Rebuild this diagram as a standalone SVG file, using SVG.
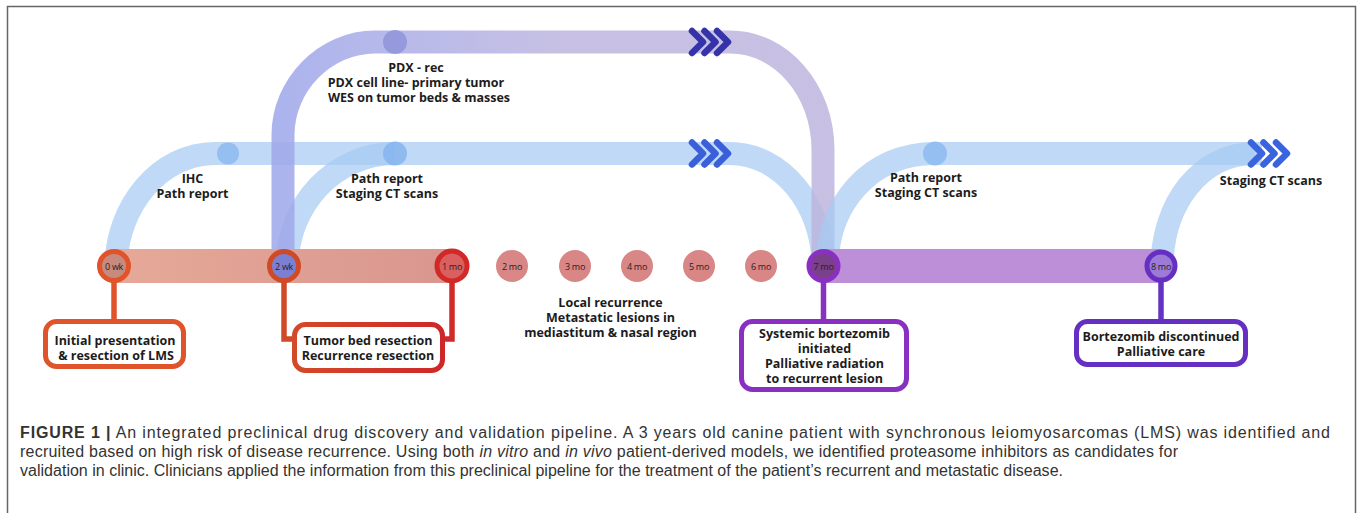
<svg xmlns="http://www.w3.org/2000/svg" width="1358" height="513" viewBox="0 0 1358 513">
<style>
  .band{fill:none;stroke-width:23;stroke-linecap:butt}
  .blue{stroke:#a6caf3;opacity:0.72}
  .lbl{font-family:"Open Sans","Noto Sans","DejaVu Sans",sans-serif;font-weight:700;font-size:12.5px;fill:#1c1c1c;text-anchor:middle}
  .tl{font-family:"Open Sans","Noto Sans","DejaVu Sans",sans-serif;font-size:9px;fill:#2a2020;text-anchor:middle;letter-spacing:-0.3px}
  .box{fill:#fff;stroke-width:5}
  .stem{fill:none;stroke-width:5.5;stroke-linejoin:miter}
  .cap{font-family:"Liberation Sans",Arial,sans-serif;font-size:16px;fill:#333}
  .chev{fill:none;stroke:currentColor;stroke-width:6.5;stroke-linecap:round;stroke-linejoin:round}
</style>
<defs>
  <linearGradient id="gPdx" gradientUnits="userSpaceOnUse" x1="283" y1="0" x2="560" y2="0">
    <stop offset="0" stop-color="#9ea7ea"/>
    <stop offset="1" stop-color="#bdb5df"/>
  </linearGradient>
  <linearGradient id="gRed" gradientUnits="userSpaceOnUse" x1="114" y1="0" x2="452" y2="0">
    <stop offset="0" stop-color="#e6a998"/>
    <stop offset="1" stop-color="#d9968f"/>
  </linearGradient>
  <linearGradient id="gBox2" gradientUnits="userSpaceOnUse" x1="284" y1="0" x2="452" y2="0">
    <stop offset="0" stop-color="#d34c28"/>
    <stop offset="1" stop-color="#cf2528"/>
  </linearGradient>
  <g id="chev3" class="chev">
    <polyline points="-11,-11 0,0 -11,11"/>
    <polyline points="1.5,-11 12.5,0 1.5,11"/>
    <polyline points="14,-11 25,0 14,11"/>
  </g>
</defs>

<rect x="7.5" y="6.5" width="1348" height="530" fill="#fff" stroke="#666" stroke-width="1.5"/>

<g id="connectors">
  <!-- flow bands -->
  <path class="band blue" d="M116 268 C116 206 160 153.5 215 153.5 L730 153.5 C781 153.5 823 204 823 266"/>
  <path class="band blue" d="M287 268 C287 204 335 153.5 395 153.5"/>
  <path class="band" stroke="url(#gPdx)" opacity="0.85" d="M283 268 L283 135 C283 85 325 42 375 42 L730 42 C781 42 823 90 823 150 L823 268"/>
  <path class="band blue" d="M827 268 C827 204 870 153.5 935 153.5 L1262 153.5"/>
  <path class="band blue" d="M1162 268 C1162 204 1200 153.5 1255 153.5"/>
  <!-- flow nodes -->
  <circle cx="395" cy="42" r="12" fill="#8f94d9" opacity="0.85"/>
  <circle cx="228" cy="153.5" r="11" fill="#8dbaef" opacity="0.85"/>
  <circle cx="395" cy="153.5" r="12" fill="#86b4ee" opacity="0.85"/>
  <circle cx="935" cy="153.5" r="12" fill="#8dbaef" opacity="0.85"/>
  <!-- chevrons -->
  <use href="#chev3" x="703" y="42" style="color:#3533a9"/>
  <use href="#chev3" x="703" y="153.5" style="color:#3a5fd9"/>
  <use href="#chev3" x="1262" y="153.5" style="color:#3a63de"/>
  <!-- timeline bars -->
  <rect x="114" y="249" width="338" height="34" fill="url(#gRed)"/>
  <rect x="823" y="249" width="338" height="34" fill="#bd8fd8"/>
  <!-- stems -->
  <path class="stem" stroke="#e0542b" d="M114 280 V322"/>
  <path class="stem" stroke="#d04a28" d="M284 280 V339 H296"/>
  <path class="stem" stroke="#d12a2a" d="M452 280 V339 H440"/>
  <path class="stem" stroke="#8a32c0" d="M823.5 280 V322"/>
  <path class="stem" stroke="#6532c2" d="M1161 280 V322"/>
</g>

<g id="tp-0wk"><circle cx="114" cy="266" r="14.5" fill="#c98a7e" stroke="#e0542b" stroke-width="5"/><text class="tl" x="114" y="269.5">0 wk</text></g>
<g id="tp-2wk"><circle cx="284" cy="266" r="14.5" fill="#7c80d3" stroke="#cf4a26" stroke-width="5"/><text class="tl" x="284" y="269.5">2 wk</text></g>
<g id="tp-1mo"><circle cx="452" cy="266" r="15" fill="#d9605e" stroke="#d22828" stroke-width="5"/><text class="tl" x="452" y="269.5">1 mo</text></g>
<g id="tp-2mo"><circle cx="512" cy="266" r="16" fill="#d98686"/><text class="tl" x="512" y="269.5">2 mo</text></g>
<g id="tp-3mo"><circle cx="575" cy="266" r="16" fill="#d98686"/><text class="tl" x="575" y="269.5">3 mo</text></g>
<g id="tp-4mo"><circle cx="637" cy="266" r="16" fill="#d98686"/><text class="tl" x="637" y="269.5">4 mo</text></g>
<g id="tp-5mo"><circle cx="699" cy="266" r="16" fill="#d98686"/><text class="tl" x="699" y="269.5">5 mo</text></g>
<g id="tp-6mo"><circle cx="761" cy="266" r="16" fill="#d98686"/><text class="tl" x="761" y="269.5">6 mo</text></g>
<g id="tp-7mo"><circle cx="823.5" cy="266" r="14.5" fill="#7a4089" stroke="#8a30c0" stroke-width="5"/><text class="tl" x="823.5" y="269.5">7 mo</text></g>
<g id="tp-8mo"><circle cx="1161" cy="266" r="14" fill="#9b7ad8" stroke="#6530c2" stroke-width="5"/><text class="tl" x="1161" y="269.5">8 mo</text></g>

<g id="box-initial"><rect class="box" x="45.5" y="321.5" width="138" height="45" rx="11" stroke="#e0542b"/>
  <text class="lbl" x="115" y="344.5">Initial presentation</text><text class="lbl" x="116" y="359.5">&amp; resection of LMS</text></g>
<g id="box-tumor"><rect class="box" x="294.5" y="324.5" width="148" height="46" rx="11" stroke="url(#gBox2)"/>
  <text class="lbl" x="368" y="344.5">Tumor bed resection</text><text class="lbl" x="368" y="359.5">Recurrence resection</text></g>
<g id="box-systemic"><rect class="box" x="741.5" y="321.5" width="165" height="68" rx="11" stroke="#8a30c0"/>
  <text class="lbl" x="824.5" y="337.5">Systemic bortezomib</text><text class="lbl" x="824.5" y="352.5">initiated</text>
  <text class="lbl" x="824.5" y="367.5">Palliative radiation</text><text class="lbl" x="824.5" y="382.5">to recurrent lesion</text></g>
<g id="box-discontinued"><rect class="box" x="1076.5" y="321.5" width="169" height="43" rx="11" stroke="#6530c2"/>
  <text class="lbl" x="1161" y="340.5">Bortezomib discontinued</text><text class="lbl" x="1161" y="356">Palliative care</text></g>

<g id="lbl-pdx"><text class="lbl" x="416" y="71.5">PDX - rec</text><text class="lbl" x="416" y="86.5">PDX cell line- primary tumor</text><text class="lbl" x="419" y="101.5">WES on tumor beds &amp; masses</text></g>
<g id="lbl-ihc"><text class="lbl" x="192.5" y="183">IHC</text><text class="lbl" x="192.5" y="197.5">Path report</text></g>
<g id="lbl-path1"><text class="lbl" x="387" y="183">Path report</text><text class="lbl" x="387" y="197.5">Staging CT scans</text></g>
<g id="lbl-path2"><text class="lbl" x="926" y="181.5">Path report</text><text class="lbl" x="926" y="196.5">Staging CT scans</text></g>
<g id="lbl-ct"><text class="lbl" x="1271" y="184.5">Staging CT scans</text></g>
<g id="lbl-local"><text class="lbl" x="610.5" y="306.5">Local recurrence</text><text class="lbl" x="610.5" y="321.5">Metastatic lesions in</text><text class="lbl" x="610.5" y="336.5">mediastitum &amp; nasal region</text></g>

<g id="caption">
  <text class="cap" x="20" y="438" textLength="1310" lengthAdjust="spacing"><tspan font-weight="700">FIGURE 1 |</tspan> An integrated preclinical drug discovery and validation pipeline. A 3 years old canine patient with synchronous leiomyosarcomas (LMS) was identified and</text>
  <text class="cap" x="20" y="457" textLength="1158" lengthAdjust="spacing">recruited based on high risk of disease recurrence. Using both <tspan font-style="italic">in vitro</tspan> and <tspan font-style="italic">in vivo</tspan> patient-derived models, we identified proteasome inhibitors as candidates for</text>
  <text class="cap" x="20" y="476" textLength="1043" lengthAdjust="spacing">validation in clinic. Clinicians applied the information from this preclinical pipeline for the treatment of the patient’s recurrent and metastatic disease.</text>
</g>
</svg>
